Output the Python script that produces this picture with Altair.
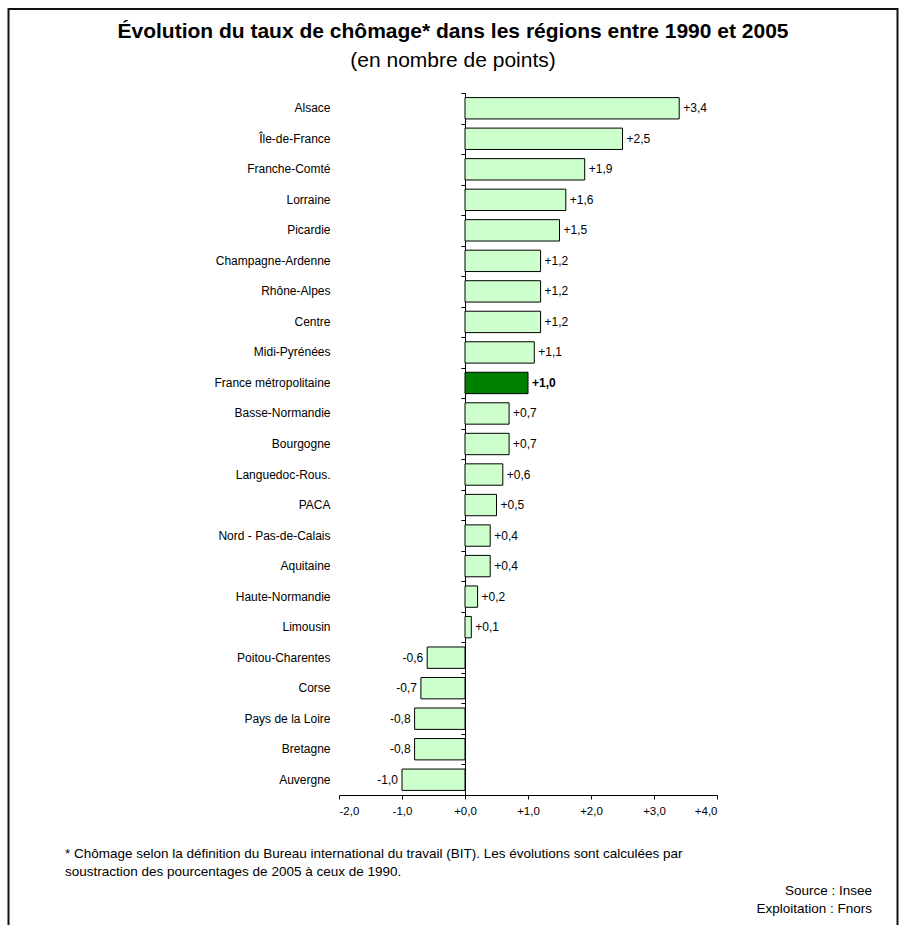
import altair as alt
import pandas as pd

# Change in unemployment rate (percentage points) by region, 1990 -> 2005
regions = [
    "Alsace", "Île-de-France", "Franche-Comté", "Lorraine", "Picardie",
    "Champagne-Ardenne", "Rhône-Alpes", "Centre", "Midi-Pyrénées",
    "France métropolitaine", "Basse-Normandie", "Bourgogne", "Languedoc-Rous.",
    "PACA", "Nord - Pas-de-Calais", "Aquitaine", "Haute-Normandie", "Limousin",
    "Poitou-Charentes", "Corse", "Pays de la Loire", "Bretagne", "Auvergne",
]
changes = [
    3.4, 2.5, 1.9, 1.6, 1.5,
    1.2, 1.2, 1.2, 1.1,
    1.0, 0.7, 0.7, 0.6,
    0.5, 0.4, 0.4, 0.2, 0.1,
    -0.6, -0.7, -0.8, -0.8, -1.0,
]
total_region = "France métropolitaine"
x_ticks = [-2, -1, 0, 1, 2, 3, 4]

title_text = "Évolution du taux de chômage* dans les régions entre 1990 et 2005"
subtitle_text = "(en nombre de points)"
note_lines = [
    "* Chômage selon la définition du Bureau international du travail (BIT). "
    "Les évolutions sont calculées par",
    "soustraction des pourcentages de 2005 à ceux de 1990.",
]
credit_lines = ["Source : Insee", "Exploitation : Fnors"]

df = pd.DataFrame({"region": regions, "change": changes})
df["label"] = [f"{v:+.1f}".replace(".", ",") for v in changes]
df["total"] = df["region"] == total_region

FONT = "Liberation Sans"
W, H = 378, 702
PAD = {"left": 339, "top": 93, "right": 189, "bottom": 130}
X_MIN, X_MAX = -2, 4
zero_offset = -(0 - X_MIN) / (X_MAX - X_MIN) * W  # moves an axis onto x = 0

x_scale = alt.Scale(domain=[X_MIN, X_MAX], nice=False, zero=False)
y_scale = alt.Scale(paddingInner=0, paddingOuter=0)

signed_label = (
    "(datum.value < 0 ? '-' : '+') + "
    "replace(format(abs(datum.value), '.1f'), '.', ',')"
)

x_axis = alt.Axis(
    values=x_ticks, labelExpr=signed_label, grid=False, title=None,
    domainColor="black", domainWidth=1, tickColor="black", tickWidth=1,
    tickSize=4, labelFontSize=11.5, labelColor="black", labelPadding=6,
    labelFont=FONT,
)
x_enc = alt.X("change:Q", scale=x_scale, axis=x_axis)

bars = alt.Chart(df).mark_bar(
    height=alt.RelativeBandSize(0.7), stroke="black", strokeWidth=1
).encode(
    x=x_enc,
    x2=alt.datum(0),
    y=alt.Y(
        "region:N",
        sort=regions,
        scale=y_scale,
        axis=alt.Axis(
            title=None, domain=False, ticks=False, tickSize=0, grid=False,
            labelFontSize=12, labelColor="black", labelPadding=9,
            labelLimit=300, labelFont=FONT,
        ),
    ),
    color=alt.condition("datum.total", alt.value("#008000"), alt.value("#CCFFCC")),
)

val_base = alt.Chart(df).encode(x=x_enc, text="label:N")

# Positive values; this layer also carries the vertical axis drawn at x = 0
pos_labels = val_base.transform_filter("datum.change >= 0 && !datum.total").mark_text(
    align="left", baseline="middle", dx=4, fontSize=12, font=FONT, color="black"
).encode(
    y=alt.Y(
        "region:N",
        sort=regions,
        scale=y_scale,
        axis=alt.Axis(
            orient="left", offset=zero_offset, labels=False, title=None,
            grid=False, domain=True, domainColor="black", domainWidth=1,
            ticks=True, tickBand="extent", tickSize=4, tickColor="black",
            tickWidth=1,
        ),
    )
)

total_label = val_base.transform_filter("datum.total").mark_text(
    align="left", baseline="middle", dx=4, fontSize=12, fontWeight="bold",
    font=FONT, color="black"
).encode(y=alt.Y("region:N", sort=regions, scale=y_scale, axis=None))

neg_labels = val_base.transform_filter("datum.change < 0").mark_text(
    align="right", baseline="middle", dx=-4, fontSize=12, font=FONT, color="black"
).encode(y=alt.Y("region:N", sort=regions, scale=y_scale, axis=None))

one_row = pd.DataFrame({"k": [0]})

frame = alt.Chart(one_row).mark_rect(
    fill="transparent", stroke="#111111", strokeWidth=2
).encode(
    x=alt.value(-330.5), x2=alt.value(558.5), y=alt.value(-84), y2=alt.value(900)
)

title = alt.Chart(one_row).mark_text(
    align="center", baseline="alphabetic", fontSize=21, fontWeight="bold",
    font=FONT, color="black"
).encode(x=alt.value(114), y=alt.value(-55), text=alt.value(title_text))

subtitle = alt.Chart(one_row).mark_text(
    align="center", baseline="alphabetic", fontSize=21, font=FONT, color="black"
).encode(x=alt.value(114), y=alt.value(-26), text=alt.value(subtitle_text))

note = alt.Chart(one_row).mark_text(
    align="left", baseline="alphabetic", fontSize=13.5, lineHeight=18,
    font=FONT, color="black"
).encode(x=alt.value(-274), y=alt.value(765), text=alt.value(note_lines))

credits = alt.Chart(one_row).mark_text(
    align="right", baseline="alphabetic", fontSize=13.5, lineHeight=18,
    font=FONT, color="black"
).encode(x=alt.value(533), y=alt.value(802), text=alt.value(credit_lines))

chart = (
    alt.layer(frame, bars, pos_labels, total_label, neg_labels,
              title, subtitle, note, credits)
    .resolve_axis(y="independent")
    .properties(
        width=W, height=H,
        autosize=alt.AutoSizeParams(type="none"),
        padding=PAD,
        background="white",
    )
    .configure(font=FONT)
    .configure_view(strokeWidth=0)
)

chart.save("out.html", embed_options={"renderer": "svg", "actions": False})
